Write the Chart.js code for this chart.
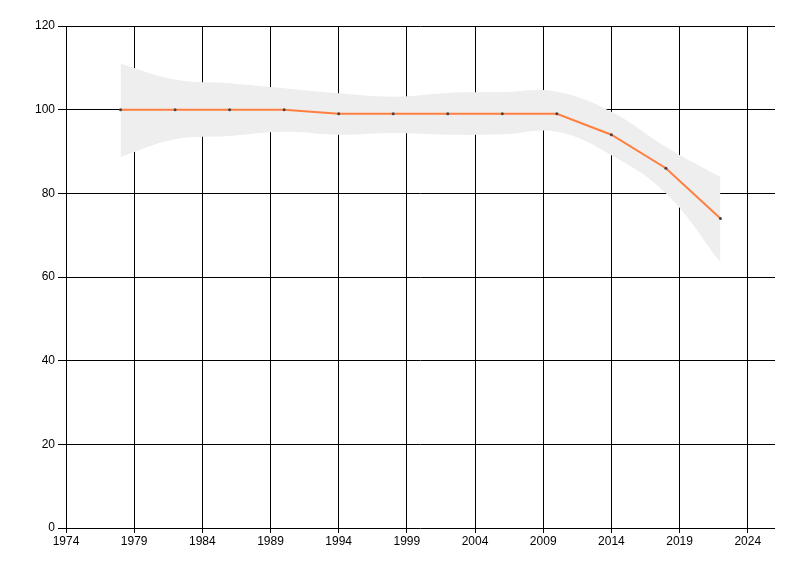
<!DOCTYPE html>
<html>
<head>
<meta charset="utf-8">
<script src="https://cdn.jsdelivr.net/npm/chart.js@4/dist/chart.umd.min.js"></script>
<style>
  html, body { margin: 0; padding: 0; background: #fff; }
  #wrap { width: 800px; height: 576px; }
</style>
</head>
<body>
<div id="wrap"><canvas id="chart" width="800" height="576"></canvas></div>
<script>
// data
const years = [1978, 1982, 1986, 1990, 1994, 1998, 2002, 2006, 2010, 2014, 2018, 2022];
const values = [100, 100, 100, 100, 99, 99, 99, 99, 99, 94, 86, 74];
const upper = [111, 107.2, 106.3, 105.1, 103.9, 103.1, 104, 104.2, 104.3, 99.5, 91.1, 83.9];
const lower = [88.7, 92.9, 93.7, 94.7, 94, 94.4, 94, 94.1, 94.7, 89.1, 80, 63.5];
const xTicks = [1974, 1979, 1984, 1989, 1994, 1999, 2004, 2009, 2014, 2019, 2024];
const yTicks = [0, 20, 40, 60, 80, 100, 120];

const pts = (arr) => years.map((y, i) => ({ x: y, y: arr[i] }));
const font = { family: "'Liberation Sans', Arial, sans-serif", size: 12 };

new Chart(document.getElementById("chart").getContext("2d"), {
  type: "line",
  data: {
    datasets: [
      {
        data: pts(values),
        borderColor: "#ff7f40",
        borderWidth: 2,
        pointRadius: 1.5,
        pointBackgroundColor: "#444",
        pointBorderWidth: 0,
        tension: 0,
        fill: false,
        order: 0,
      },
      {
        data: pts(upper),
        borderWidth: 0,
        pointRadius: 0,
        backgroundColor: "#eeeeee",
        tension: 0.4,
        fill: "+1",
        order: 1,
      },
      {
        data: pts(lower),
        borderWidth: 0,
        pointRadius: 0,
        tension: 0.4,
        fill: false,
        order: 2,
      },
    ],
  },
  options: {
    responsive: false,
    animation: false,
    layout: { padding: { left: 0, top: 26, right: 25, bottom: 0 } },
    plugins: { legend: { display: false }, tooltip: { enabled: false } },
    scales: {
      x: {
        type: "linear",
        min: 1974,
        max: 2026,
        afterBuildTicks: (scale) => {
          scale.ticks = xTicks.map((v) => ({ value: v }));
        },
        afterFit: (scale) => {
          scale.height = 48;
        },
        grid: { color: "#000", lineWidth: 1, tickLength: 5, drawTicks: true },
        border: { display: false },
        ticks: {
          color: "#000",
          font: font,
          padding: 1,
          maxRotation: 0,
          autoSkip: false,
          callback: (v) => String(v),
        },
      },
      y: {
        min: 0,
        max: 120,
        afterBuildTicks: (scale) => {
          scale.ticks = yTicks.map((v) => ({ value: v }));
        },
        afterFit: (scale) => {
          scale.width = 66;
        },
        grid: { color: "#000", lineWidth: 1, tickLength: 8 },
        border: { display: false },
        ticks: { color: "#000", font: font, padding: 3, callback: (v) => String(v) },
      },
    },
  },
});
</script>
</body>
</html>
